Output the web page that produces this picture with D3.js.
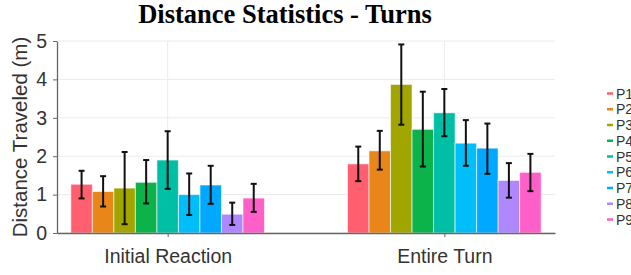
<!DOCTYPE html>
<html><head><meta charset="utf-8">
<script src="https://cdn.jsdelivr.net/npm/d3@7"></script>
<style>body{margin:0;background:#fff}svg{display:block}</style>
</head><body>
<script>
const categories = ["Initial Reaction", "Entire Turn"];
const participants = ["P1","P2","P3","P4","P5","P6","P7","P8","P9"];
const colors = ["#FF5F6E","#E8861A","#A0A500","#0BB34A","#00BFA5","#00BEFA","#00A9FF","#AF87FF","#FF5FC8"];
const initialMean = [1.27,1.08,1.17,1.32,1.90,1.00,1.25,0.49,0.91];
const initialLow  = [0.90,0.69,0.23,0.77,1.15,0.47,0.76,0.21,0.55];
const initialHigh = [1.62,1.48,2.11,1.90,2.65,1.55,1.75,0.79,1.28];
const turnMean = [1.80,2.14,3.87,2.70,3.13,2.34,2.21,1.37,1.58];
const turnLow  = [1.35,1.65,2.82,1.73,2.52,1.75,1.54,0.92,1.09];
const turnHigh = [2.25,2.66,4.91,3.68,3.75,2.94,2.85,1.82,2.06];
const yTicks = [0,1,2,3,4,5];

const W=631,H=275;
const svg=d3.select("body").append("svg").attr("width",W).attr("height",H);
const x=d3.scaleLinear().domain([0.6,2.4]).range([57,555]);
const y=d3.scaleLinear().domain([0,5]).range([233,41]);
const groupW=0.7, bw=groupW/participants.length;

// grid
svg.append("g").selectAll("line").data(yTicks).join("line")
  .attr("x1",57).attr("x2",555).attr("y1",d=>y(d)).attr("y2",d=>y(d))
  .attr("stroke","#ebebeb").attr("stroke-width",1);
svg.append("g").selectAll("line").data([1,2]).join("line")
  .attr("x1",d=>x(d)).attr("x2",d=>x(d)).attr("y1",41).attr("y2",233)
  .attr("stroke","#ebebeb").attr("stroke-width",1);

const groups=[{mean:initialMean,low:initialLow,high:initialHigh},{mean:turnMean,low:turnLow,high:turnHigh}];
const data=[];
groups.forEach((g,gi)=>participants.forEach((p,i)=>data.push({gi,i,p,m:g.mean[i],lo:g.low[i],hi:g.high[i]})));
const bx=d=>(d.gi+1)-groupW/2+d.i*bw;

svg.append("g").selectAll("rect").data(data).join("rect")
  .attr("x",d=>x(bx(d))).attr("width",d=>x(bx(d)+bw)-x(bx(d)))
  .attr("y",d=>y(d.m)).attr("height",d=>y(0)-y(d.m))
  .attr("fill",d=>colors[d.i]).attr("stroke","#ffffff").attr("stroke-opacity",0.6).attr("stroke-width",1);

const eb=svg.append("g").attr("stroke","#111").attr("stroke-width",2);
data.forEach(d=>{
  const cx=x(bx(d)+bw/2);
  eb.append("line").attr("x1",cx).attr("x2",cx).attr("y1",y(d.lo)).attr("y2",y(d.hi));
  eb.append("line").attr("x1",cx-3).attr("x2",cx+3).attr("y1",y(d.lo)).attr("y2",y(d.lo));
  eb.append("line").attr("x1",cx-3).attr("x2",cx+3).attr("y1",y(d.hi)).attr("y2",y(d.hi));
});

// axes
const ya=svg.append("g").attr("transform","translate(57,0)")
  .call(d3.axisLeft(y).tickValues(yTicks).tickSize(4).tickSizeOuter(0).tickFormat(d3.format("d")));
ya.select(".domain").attr("stroke","#666").attr("stroke-width",1.3);
ya.selectAll(".tick line").attr("stroke","#666");
ya.selectAll("text").attr("font-family","Liberation Sans, Arial, sans-serif").attr("font-size",19.5).attr("fill","#333").attr("x",-10);

const xa=svg.append("g").attr("transform","translate(0,233)")
  .call(d3.axisBottom(x).tickValues([1,2]).tickSize(4).tickSizeOuter(0).tickFormat(d=>categories[d-1]));
xa.select(".domain").attr("stroke","#666").attr("stroke-width",1.3);
xa.selectAll(".tick line").attr("stroke","#666");
xa.selectAll("text").attr("font-family","Liberation Sans, Arial, sans-serif").attr("font-size",19.5).attr("fill","#333").attr("y",16).attr("dy","0.71em");

svg.append("text").attr("transform","translate(27,137) rotate(-90)").attr("text-anchor","middle")
  .attr("font-family","Liberation Sans, Arial, sans-serif").attr("font-size",20.5).attr("fill","#333")
  .text("Distance Traveled (m)");

svg.append("text").attr("x",285).attr("y",23).attr("text-anchor","middle")
  .attr("font-family","Liberation Serif, Times New Roman, serif").attr("font-weight","bold").attr("font-size",26.5)
  .attr("fill","#000").text("Distance Statistics - Turns");

// legend
const lg=svg.append("g");
participants.forEach((p,i)=>{
  const yy=93.5+i*15.75;
  lg.append("line").attr("x1",607).attr("x2",613).attr("y1",yy).attr("y2",yy)
    .attr("stroke",colors[i]).attr("stroke-width",2.5);
  lg.append("text").attr("x",616).attr("y",yy).attr("dy","0.36em")
    .attr("font-family","Liberation Sans, Arial, sans-serif").attr("font-size",14).attr("fill","#333").text(p);
});
</script>
</body></html>
